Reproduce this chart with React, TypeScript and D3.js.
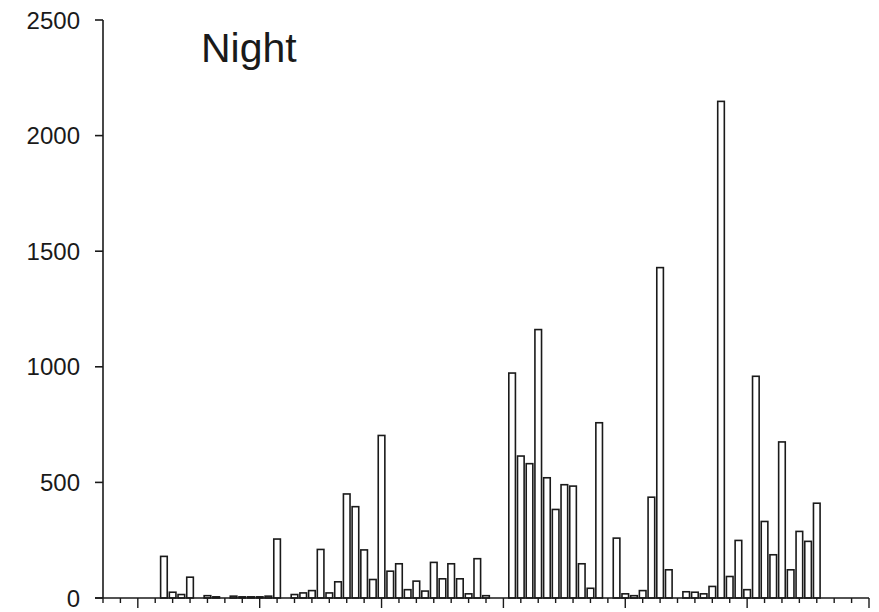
import React from "react";
import * as d3 from "d3";

// Night-time counts per sampling slot (slots without a bar are omitted)
const slots: number[] = [
  7, 8, 9, 10, 12, 13, 15, 16, 17, 18, 19, 20, 22, 23, 24, 25, 26, 27, 28, 29,
  30, 31, 32, 33, 34, 35, 36, 37, 38, 39, 40, 41, 42, 43, 44, 47, 48, 49, 50, 51,
  52, 53, 54, 55, 56, 57, 59, 60, 61, 62, 63, 64, 65, 67, 68, 69, 70, 71, 72, 73,
  74, 75, 76, 77, 78, 79, 80, 81, 82,
];
const counts: number[] = [
  180, 25, 15, 90, 10, 5, 8, 5, 5, 5, 8, 255, 15, 22, 32, 210, 22, 70, 450, 395,
  208, 80, 703, 116, 148, 36, 73, 30, 154, 83, 148, 83, 18, 170, 10, 973, 614, 581, 1161, 520,
  383, 490, 484, 148, 42, 758, 259, 18, 10, 32, 436, 1429, 122, 27, 25, 18, 50, 2148, 93, 249,
  36, 959, 331, 187, 675, 122, 288, 245, 410,
];

const yTicks: number[] = [0, 500, 1000, 1500, 2000, 2500];
const xMinorTicks: number[] = [
  0, 2, 4, 6, 8, 10, 12, 14, 16, 18, 20, 22, 24, 26, 28, 30, 32, 34, 36, 38, 40, 42,
  44, 46, 48, 50, 52, 54, 56, 58, 60, 62, 64, 66, 68, 70, 72, 74, 76, 78, 80, 82, 84, 86, 88,
];
const xMajorTicks: number[] = [4, 18, 32, 46, 60, 74, 88];

const title = "Night";

const W = 879;
const H = 612;
const left = 103;
const right = 869;
const top = 20;
const bottom = 598;

export default function App() {
  const x = d3.scaleLinear().domain([0, 88]).range([left, right]);
  const y = d3.scaleLinear().domain([0, 2500]).range([bottom, top]);
  const barW = (x(1) - x(0)) * 0.76;
  const font = "'Liberation Sans', Arial, Helvetica, sans-serif";
  const ink = "#1a1a1a";

  return (
    <svg
      width={W}
      height={H}
      style={{ position: "absolute", left: 0, top: 0, background: "#fff" }}
    >
      {/* bars */}
      {slots.map((s, i) => {
        const v = counts[i];
        const y0 = y(v);
        return (
          <rect
            key={s}
            x={x(s) - barW / 2}
            y={y0}
            width={barW}
            height={Math.max(0, y(0) - y0)}
            fill="#fff"
            stroke={ink}
            strokeWidth={1.6}
          />
        );
      })}

      {/* y axis */}
      <line x1={left} x2={left} y1={top} y2={bottom} stroke={ink} strokeWidth={1.6} />
      {yTicks.map((t) => (
        <g key={t}>
          <line x1={left - 8} x2={left} y1={y(t)} y2={y(t)} stroke={ink} strokeWidth={1.6} />
          <text
            x={80}
            y={y(t)}
            dy="0.36em"
            textAnchor="end"
            fontFamily={font}
            fontSize={24}
            fill={ink}
          >
            {t}
          </text>
        </g>
      ))}

      {/* x axis */}
      <line x1={left - 8} x2={right} y1={bottom} y2={bottom} stroke={ink} strokeWidth={1.6} />
      {xMinorTicks.map((t) => {
        const major = xMajorTicks.includes(t);
        return (
          <line
            key={t}
            x1={x(t)}
            x2={x(t)}
            y1={bottom}
            y2={bottom + (major ? 10 : 5)}
            stroke={ink}
            strokeWidth={1.4}
          />
        );
      })}

      {/* title */}
      <text x={201} y={62} fontFamily={font} fontSize={41} fill={ink}>
        {title}
      </text>
    </svg>
  );
}
